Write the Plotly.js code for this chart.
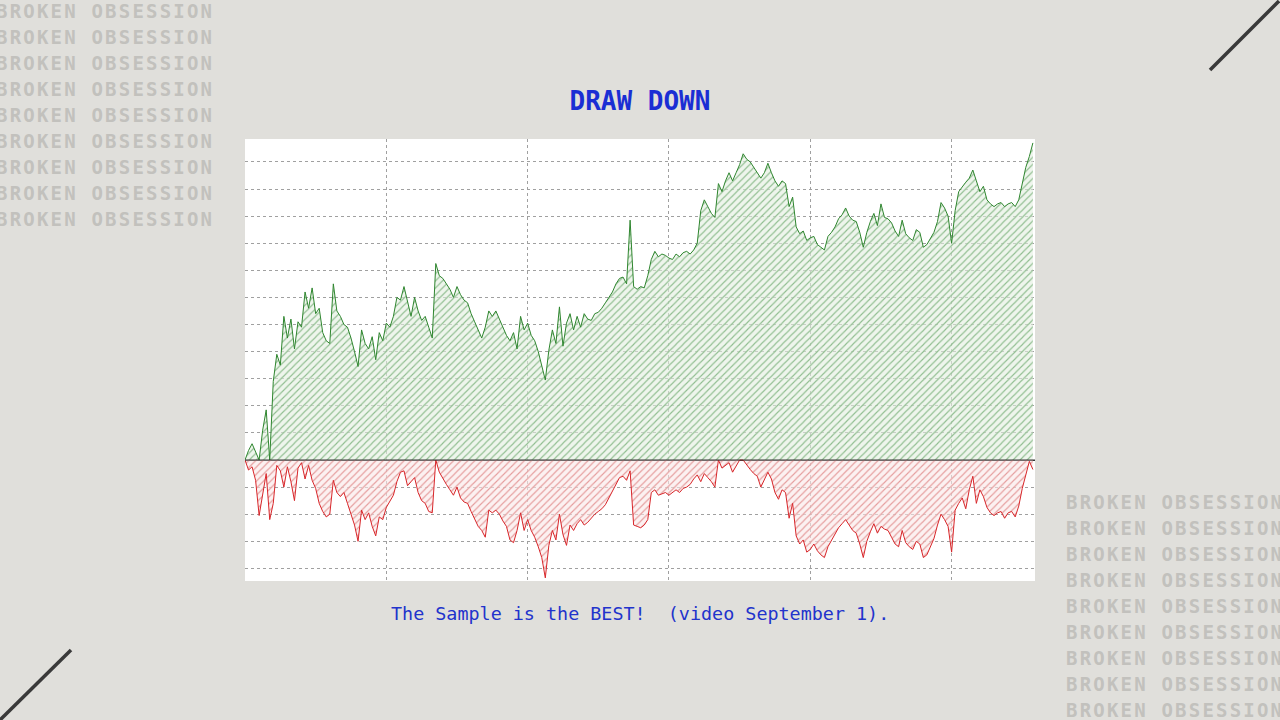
<!DOCTYPE html>
<html>
<head>
<meta charset="utf-8">
<script src="https://cdn.plot.ly/plotly-3.0.1.min.js"></script>
<style>
  html, body { margin:0; padding:0; width:1280px; height:720px; overflow:hidden; background:#e0dfdb; }
  #chart { position:absolute; left:0; top:0; width:1280px; height:720px; }
  .wm { position:absolute; font-family:"DejaVu Sans Mono", monospace; font-weight:bold; font-size:19px;
        letter-spacing:2.2px; line-height:26px; color:#c2c1bd; white-space:pre; pointer-events:none; }
  #deco { position:absolute; left:0; top:0; pointer-events:none; }
</style>
</head>
<body>
<div id="chart"></div>
<div class="wm" id="wmLeft" style="left:-4px; top:-2px;"></div>
<div class="wm" id="wmRight" style="left:1066px; top:489px;"></div>
<svg id="deco" width="1280" height="720">
  <line x1="1210" y1="70" x2="1279" y2="1" stroke="#3a3a3a" stroke-width="3.5"/>
  <line x1="71" y1="650" x2="-1" y2="721" stroke="#3a3a3a" stroke-width="3.5"/>
</svg>
<script>
// ---- data (grid units; one step = 2.5 x-units) ----
const titleText = 'DRAW DOWN';
const subtitleText = 'The Sample is the BEST! \u00a0(video September 1).';
const watermarkText = 'BROKEN OBSESSION';
const xStep = 2.5;

const equity = [
  0, 0.35, 0.6, 0.3, 0, 1.1, 1.85, 0, 2.9, 3.9,
  3.5, 5.3, 4.5, 5.2, 4.1, 5.1, 4.9, 6.2, 5.6, 6.35,
  5.4, 5.6, 4.7, 4.4, 4.3, 6.5, 5.5, 5.3, 5.0, 4.9,
  4.5, 4.0, 3.45, 4.8, 4.3, 4.1, 4.55, 3.7, 4.7, 4.4,
  5.05, 4.9, 5.3, 6.0, 5.9, 6.4, 5.8, 5.3, 6.0, 5.5,
  5.15, 5.3, 4.9, 4.5, 7.25, 6.8, 6.7, 6.5, 6.3, 6.0,
  6.4, 6.1, 5.9, 5.8, 5.4, 5.1, 4.8, 4.5, 4.9, 5.5,
  5.3, 5.5, 5.2, 4.9, 4.6, 4.4, 4.7, 4.1, 5.3, 4.8,
  5.05, 4.6, 4.4, 4.0, 3.5, 2.95, 4.05, 4.8, 4.3, 5.65,
  4.2, 5.05, 5.4, 4.8, 5.3, 4.9, 5.4, 5.2, 5.15, 5.4,
  5.45, 5.6, 5.8, 6.0, 6.2, 6.5, 6.7, 6.75, 6.5, 8.85,
  6.4, 6.3, 6.4, 6.35, 6.8, 7.4, 7.7, 7.5, 7.6, 7.55,
  7.45, 7.4, 7.6, 7.5, 7.65, 7.7, 7.6, 7.75, 8.0, 9.2,
  9.6, 9.35, 9.1, 8.95, 10.2, 9.9, 10.3, 10.6, 10.3, 10.6,
  10.9, 11.3, 11.1, 11.0, 10.8, 10.6, 10.4, 10.6, 10.95, 10.6,
  10.3, 10.1, 10.3, 10.2, 9.35, 9.7, 8.6, 8.35, 8.45, 8.1,
  8.2, 8.25, 7.95, 7.85, 7.75, 8.25, 8.4, 8.6, 8.9, 9.05,
  9.3, 9.0, 8.85, 8.8, 8.4, 7.85, 8.4, 8.8, 9.1, 8.65,
  9.45, 8.95, 8.9, 8.75, 8.45, 8.25, 8.85, 8.35, 8.2, 8.1,
  8.5, 8.4, 7.85, 7.95, 8.2, 8.4, 8.8, 9.5, 9.3, 9.0,
  8.0, 9.2, 9.9, 10.1, 10.25, 10.4, 10.7, 10.3, 9.9, 10.1,
  9.6, 9.45, 9.35, 9.45, 9.5, 9.35, 9.45, 9.5, 9.35, 9.6,
  10.2, 10.8, 11.2, 11.7
];

const drawdown = [
  0, -0.37, -0.25, -0.75, -2.05, -1.2, -0.5, -2.2, -1.6, -0.2,
  -0.4, -1.0, -0.25, -0.8, -1.5, -0.3, -0.1, -0.7, -0.2, -0.75,
  -1.05, -1.6, -1.9, -2.1, -2.0, -0.75, -1.2, -1.35, -1.2, -1.6,
  -2.0, -2.4, -3.0, -1.85, -2.2, -1.95, -2.45, -2.8, -2.1, -2.2,
  -1.75, -1.55, -1.3, -0.8, -0.45, -0.4, -0.95, -0.8, -0.65, -1.2,
  -1.5, -1.6, -1.9, -1.95, 0, -0.45, -0.7, -0.9, -1.1, -1.3,
  -1.0, -1.4, -1.55, -1.6, -1.9, -2.2, -2.45, -2.6, -2.85, -1.85,
  -1.95, -1.85, -2.0, -2.25, -2.45, -2.95, -3.05, -2.6, -1.95, -2.6,
  -2.2, -2.6, -2.85, -3.2, -3.6, -4.35, -3.15, -2.6, -2.95, -2.0,
  -2.75, -3.15, -2.4, -2.6, -2.35, -2.2, -2.4, -2.3, -2.15, -2.0,
  -1.9, -1.8, -1.65, -1.4, -1.1, -0.85, -0.65, -0.6, -0.75, -0.4,
  -2.4, -2.45, -2.5, -2.4, -2.2, -1.2, -1.1, -1.3, -1.25, -1.2,
  -1.3, -1.2, -1.1, -1.2, -1.05, -1.0, -0.9, -0.7, -0.55, -0.8,
  -0.5, -0.65, -0.8, -1.0, 0, -0.3, -0.2, -0.1, -0.45, -0.2,
  0, 0, -0.2, -0.35, -0.5, -0.6, -1.0, -0.7, -0.45, -0.7,
  -1.2, -1.45, -1.1, -1.2, -2.15, -1.6, -2.8, -3.1, -2.95, -3.4,
  -3.3, -3.1, -3.35, -3.5, -3.6, -3.2, -2.95, -2.75, -2.5, -2.35,
  -2.2, -2.4, -2.6, -2.7, -3.1, -3.6, -3.0, -2.65, -2.35, -2.7,
  -2.45, -2.55, -2.6, -2.85, -3.1, -3.2, -2.6, -3.05, -3.2, -3.3,
  -3.0, -3.1, -3.6, -3.5, -3.2, -2.9, -2.4, -2.0, -2.2, -2.45,
  -3.4, -1.85, -1.6, -1.4, -1.8, -1.1, -0.6, -1.6, -1.1, -1.35,
  -1.75, -1.95, -2.05, -1.95, -1.9, -2.15, -1.95, -1.9, -2.1, -1.7,
  -1.05, -0.5, -0.05, -0.35
];

// ---- watermark text ----
const rows = Array(9).fill(watermarkText).join('\n');
document.getElementById('wmLeft').textContent = rows;
document.getElementById('wmRight').textContent = rows;

const xs = equity.map((_, i) => i * xStep);
const xsDD = drawdown.map((_, i) => i * xStep);

const traces = [
  {
    type: 'scatter', mode: 'lines', x: xs, y: equity,
    line: { color: '#2f862f', width: 1 },
    fill: 'tozeroy',
    fillpattern: { shape: '/', size: 5, solidity: 0.22, fgcolor: '#8fbd8f', bgcolor: 'rgba(226,238,224,0.6)', fillmode: 'replace' },
    hoverinfo: 'skip'
  },
  {
    type: 'scatter', mode: 'lines', x: xsDD, y: drawdown,
    line: { color: '#d8262a', width: 1 },
    fill: 'tozeroy',
    fillpattern: { shape: '/', size: 5, solidity: 0.22, fgcolor: '#e59c9c', bgcolor: 'rgba(250,232,232,0.6)', fillmode: 'replace' },
    hoverinfo: 'skip'
  }
];

const layout = {
  width: 1280, height: 720,
  paper_bgcolor: '#e0dfdb', plot_bgcolor: '#ffffff',
  margin: { l: 245, r: 245, t: 139, b: 139, pad: 0 },
  showlegend: false,
  title: {
    text: titleText,
    font: { family: 'DejaVu Sans Mono, monospace', size: 26, color: '#1a2ed4', weight: 'bold' },
    x: 0.5, xanchor: 'center', y: 1 - 101 / 720, yanchor: 'middle'
  },
  xaxis: {
    range: [0, 559], tick0: 0, dtick: 100,
    showgrid: true, gridcolor: '#a0a0a0', griddash: 'dot', gridwidth: 1,
    zeroline: false, showticklabels: false, ticks: '', showline: false, fixedrange: true
  },
  yaxis: {
    range: [-4.465, 11.845], tick0: 0, dtick: 1,
    showgrid: true, gridcolor: '#a0a0a0', griddash: 'dot', gridwidth: 1,
    zeroline: true, zerolinecolor: '#3a3a3a', zerolinewidth: 1,
    showticklabels: false, ticks: '', showline: false, fixedrange: true
  },
  shapes: [{
    type: 'line', xref: 'paper', yref: 'y', x0: 0, x1: 1, y0: 0, y1: 0,
    line: { color: '#333333', width: 1 }, layer: 'above'
  }],
  annotations: [{
    text: subtitleText, xref: 'paper', yref: 'paper', x: 0.5, y: -0.0724,
    xanchor: 'center', yanchor: 'middle', showarrow: false,
    font: { family: 'DejaVu Sans Mono, monospace', size: 18.4, color: '#2233cc' }
  }]
};

Plotly.newPlot('chart', traces, layout, { staticPlot: true, displayModeBar: false });
</script>
</body>
</html>
